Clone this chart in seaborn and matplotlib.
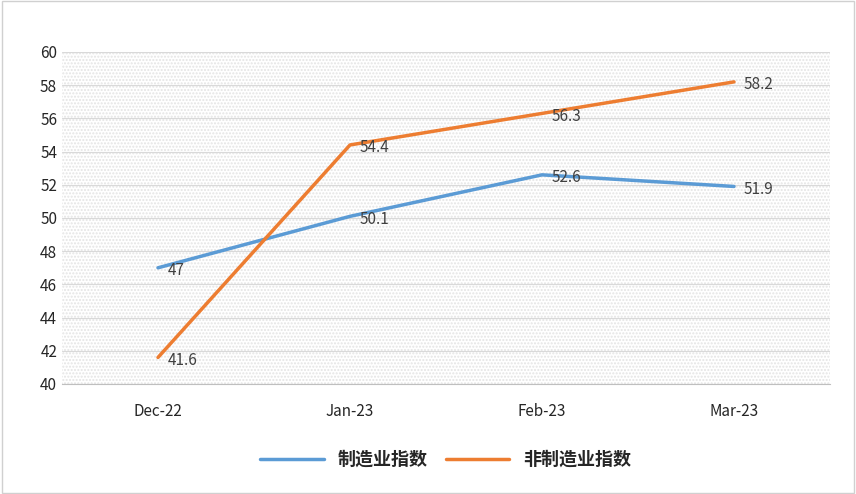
import matplotlib.pyplot as plt
import seaborn as sns
import pandas as pd

months = ["Dec-22", "Jan-23", "Feb-23", "Mar-23"]
manu = [47, 50.1, 52.6, 51.9]
nonmanu = [41.6, 54.4, 56.3, 58.2]
names = ["制造业指数", "非制造业指数"]

sns.set_style("white")
plt.rcParams['font.family'] = ['Noto Sans CJK SC', 'DejaVu Sans']
plt.rcParams['hatch.color'] = '#e4e4e4'

df = pd.DataFrame({"month": months * 2,
                   "value": manu + nonmanu,
                   "series": [names[0]] * 4 + [names[1]] * 4})

fig = plt.figure(figsize=(8.56, 4.94), dpi=100)
ax = fig.add_axes([62 / 856, 1 - 384 / 494, 768 / 856, 332 / 494])
ax.add_patch(plt.Rectangle((0, 0), 1, 1, transform=ax.transAxes, facecolor='white',
                           hatch='.....', edgecolor='#e4e4e4', lw=0, zorder=0))
sns.lineplot(data=df, x="month", y="value", hue="series",
             palette=["#5b9bd5", "#ed7d31"], linewidth=2.5, ax=ax, sort=False, legend=True)
ax.set_xlim(-0.5, 3.5)
ax.set_ylim(40, 60)
ax.set_yticks(range(40, 61, 2))
ax.grid(axis='y', color='#d9d9d9', lw=0.8)
ax.set_axisbelow(True)
for s in ["top", "right", "left"]:
    ax.spines[s].set_visible(False)
ax.spines["bottom"].set_color('#bfbfbf')
ax.tick_params(axis='x', length=0, pad=14, labelsize=11)
ax.tick_params(axis='y', length=0, labelsize=11)
ax.set_xlabel("")
ax.set_ylabel("")
for vals in (manu, nonmanu):
    for i, v in enumerate(vals):
        ax.annotate(f"{v:g}", (i, v), xytext=(7, -2), textcoords='offset points',
                    fontsize=11, color='#404040', ha='left', va='center')
leg = ax.legend(loc='upper center', bbox_to_anchor=(0.5, -0.15), ncol=2, frameon=False,
                fontsize=13, handlelength=3.5, columnspacing=1.0)
plt.setp(leg.get_texts(), fontweight='bold')
fig.patches.append(plt.Rectangle((0.002, 0.002), 0.996, 0.996, transform=fig.transFigure,
                                 fill=False, edgecolor='#d0d0d0', lw=1))
fig.savefig("out.png", dpi=100)
